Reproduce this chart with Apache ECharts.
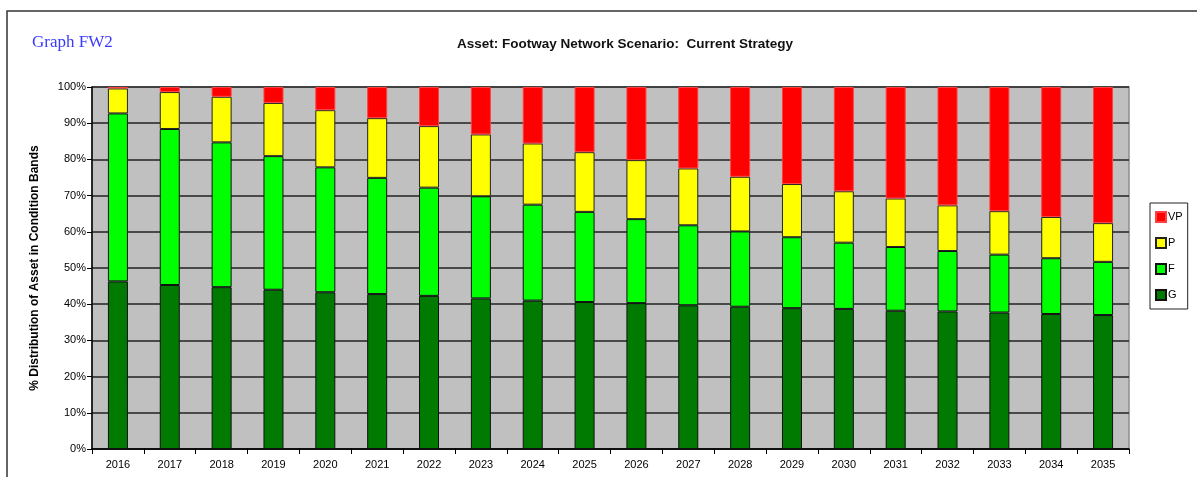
<!DOCTYPE html>
<html>
<head>
<meta charset="utf-8">
<script src="https://cdn.jsdelivr.net/npm/echarts@6/dist/echarts.min.js"></script>
<style>
  html, body { margin: 0; padding: 0; background: #fff; }
  #chart { width: 1197px; height: 477px; }
</style>
</head>
<body>
<div id="chart"></div>
<script>
var years = ['2016', '2017', '2018', '2019', '2020', '2021', '2022', '2023', '2024', '2025',
    '2026', '2027', '2028', '2029', '2030', '2031', '2032', '2033', '2034', '2035'];
// share of asset in each condition band (%)
var bandG = [46.3, 45.3, 44.7, 44.0, 43.3, 42.8, 42.3, 41.6, 41.0, 40.6, 40.3, 39.7, 39.3, 38.9, 38.7, 38.2, 38.0, 37.7, 37.3, 37.0];
var bandF = [46.4, 43.1, 40.0, 36.9, 34.5, 32.1, 29.9, 28.2, 26.5, 24.9, 23.2, 22.1, 20.8, 19.6, 18.3, 17.6, 16.7, 16.0, 15.4, 14.7];
var bandP = [6.9, 10.2, 12.6, 14.7, 15.8, 16.5, 17.0, 17.1, 16.9, 16.5, 16.3, 15.7, 15.1, 14.7, 14.2, 13.4, 12.6, 12.0, 11.4, 10.7];
var bandVP = [0.4, 1.4, 2.7, 4.4, 6.4, 8.6, 10.8, 13.1, 15.6, 18.0, 20.2, 22.5, 24.8, 26.8, 28.8, 30.8, 32.7, 34.3, 35.9, 37.6];
var legendNames = ['VP', 'P', 'F', 'G'];

var myChart = echarts.init(document.getElementById('chart'));

function band(name, data, color, border) {
    return {
        name: name,
        type: 'bar',
        stack: 'all',
        barWidth: 20,
        data: data,
        itemStyle: { color: color, borderColor: border, borderWidth: 1 },
        emphasis: { disabled: true }
    };
}

var option = {
    animation: false,
    textStyle: { fontFamily: 'Liberation Sans, Arial, sans-serif' },
    title: [
        {
            text: 'Graph FW2',
            left: 27, top: 29,
            textStyle: { fontFamily: 'Liberation Serif, serif', fontSize: 17, fontWeight: 'normal', color: '#3a3aff' }
        },
        {
            text: 'Asset: Footway Network Scenario:  Current Strategy',
            left: 452, top: 32,
            textStyle: { fontSize: 13.5, fontWeight: 'bold', color: '#111' }
        }
    ],
    graphic: [{
        type: 'rect',
        shape: { x: 7, y: 11, width: 1200, height: 480 },
        style: { fill: 'none', stroke: '#333', lineWidth: 1.5 },
        silent: true
    }],
    legend: {
        data: legendNames,
        orient: 'vertical',
        left: 1150, top: 203,
        itemWidth: 10, itemHeight: 10, itemGap: 14,
        padding: [8, 5, 8, 5],
        icon: 'rect',
        borderColor: '#222', borderWidth: 1,
        backgroundColor: '#fff',
        textStyle: { fontSize: 11, color: '#000', padding: [0, 0, 0, -3] }
    },
    grid: {
        left: 92, right: 68, top: 87, bottom: 28,
        show: true,
        backgroundColor: '#c0c0c0',
        borderColor: '#8c8c8c',
        borderWidth: 1.5
    },
    xAxis: {
        type: 'category',
        data: years,
        axisLine: { lineStyle: { color: '#000', width: 1.5 } },
        axisTick: { show: true, length: 5, lineStyle: { color: '#000' } },
        axisLabel: { color: '#000', fontSize: 11, margin: 10 }
    },
    yAxis: {
        type: 'value',
        min: 0, max: 100, interval: 10,
        name: '% Distribution of Asset in Condition Bands',
        nameLocation: 'middle',
        nameRotate: 90,
        nameGap: 51,
        nameTextStyle: { fontSize: 12, fontWeight: 'bold', color: '#000' },
        axisLine: { show: true, lineStyle: { color: '#000', width: 1.5 } },
        axisTick: { show: true, length: 5, lineStyle: { color: '#000' } },
        axisLabel: { color: '#000', fontSize: 11, margin: 6, formatter: '{value}%' },
        splitLine: { lineStyle: { color: '#222', width: 1.5 } }
    },
    series: [
        band('G', bandG, '#007a00', '#111'),
        band('F', bandF, '#00ff00', '#111'),
        band('P', bandP, '#ffff00', '#222'),
        band('VP', bandVP, '#ff0000', '#ff4040')
    ]
};
myChart.setOption(option);
</script>
</body>
</html>
